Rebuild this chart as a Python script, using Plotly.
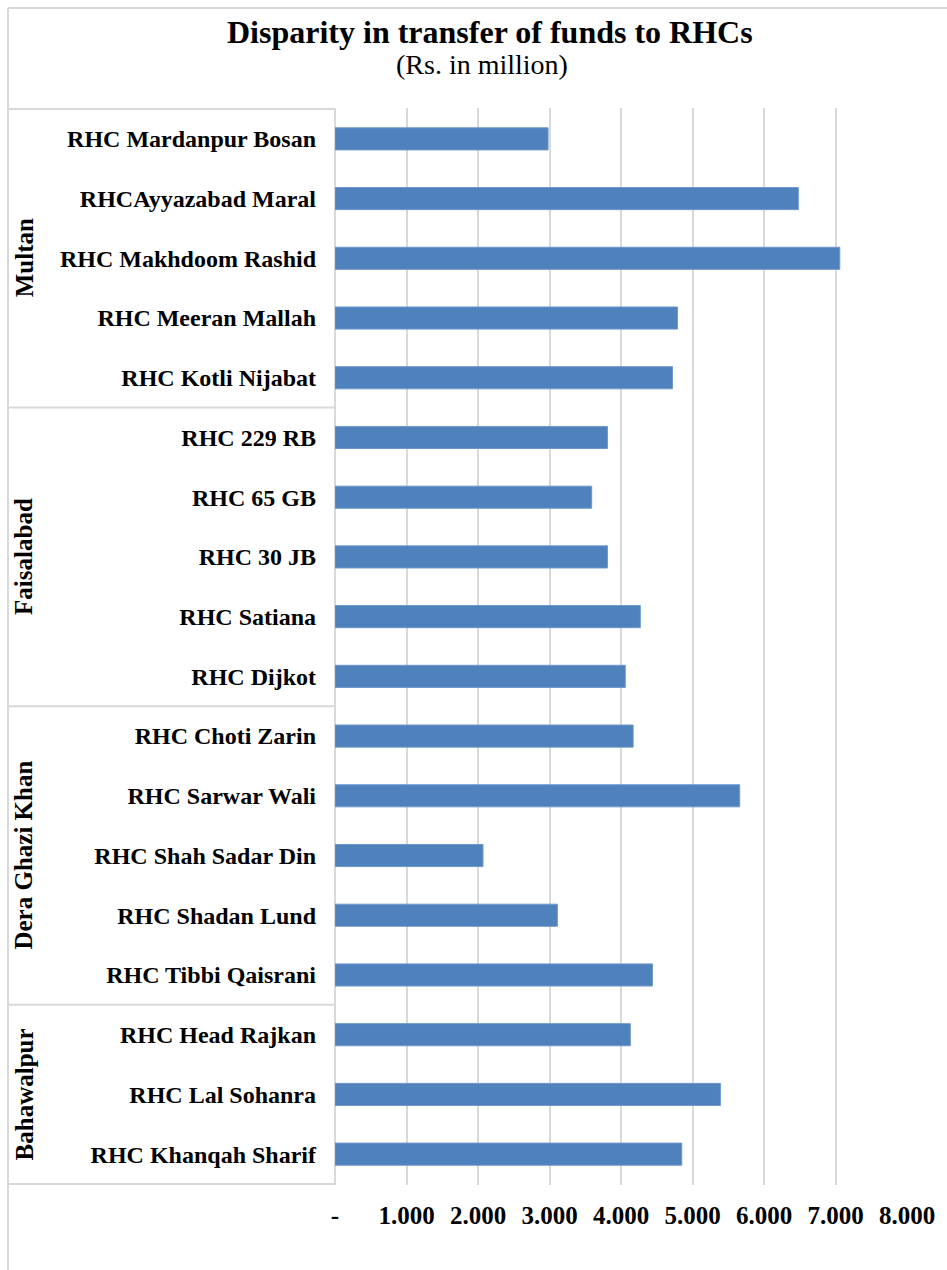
import plotly.graph_objects as go

# ---- data ----
categories = [
    "RHC Mardanpur Bosan", "RHCAyyazabad Maral", "RHC Makhdoom Rashid",
    "RHC Meeran Mallah", "RHC Kotli Nijabat",
    "RHC 229 RB", "RHC 65 GB", "RHC 30 JB", "RHC Satiana", "RHC Dijkot",
    "RHC Choti Zarin", "RHC Sarwar Wali", "RHC Shah Sadar Din",
    "RHC Shadan Lund", "RHC Tibbi Qaisrani",
    "RHC Head Rajkan", "RHC Lal Sohanra", "RHC Khanqah Sharif",
]
values = [2.98, 6.48, 7.06, 4.79, 4.72,
          3.81, 3.59, 3.81, 4.27, 4.06,
          4.17, 5.66, 2.07, 3.11, 4.44,
          4.13, 5.39, 4.85]
groups = ["Multan", "Faisalabad", "Dera Ghazi Khan", "Bahawalpur"]
group_sizes = [5, 5, 5, 3]
tick_vals = [0, 1, 2, 3, 4, 5, 6, 7, 8]
tick_text = ["-", "1.000", "2.000", "3.000", "4.000", "5.000", "6.000", "7.000", "8.000"]

# ---- layout geometry (pixels) ----
W, H = 947, 1270
L, R, T, B = 335, 40, 108, 85
pw, ph = W - L - R, H - T - B
def px_x(p):  # pixel x -> paper x
    return (p - L) / pw
def px_y(p):  # pixel y -> paper y
    return (H - B - p) / ph

FONT = "Liberation Serif"
GRID = "#d9d9d9"

fig = go.Figure(go.Bar(
    x=values, y=categories, orientation="h",
    marker=dict(color="#4f81bd", line=dict(color="#6f97cc", width=1)),
    width=0.37,
))

fig.update_layout(
    width=W, height=H,
    margin=dict(l=L, r=R, t=T, b=B),
    paper_bgcolor="white", plot_bgcolor="white",
    showlegend=False,
    font=dict(family=FONT, color="black"),
    xaxis=dict(
        range=[0, 8], tickvals=tick_vals, ticktext=["<b>%s</b>" % t for t in tick_text],
        showgrid=True, gridcolor=GRID, gridwidth=2,
        zeroline=True, zerolinecolor=GRID, zerolinewidth=2,
        showline=False, ticks="", ticklabelstandoff=13,
        tickfont=dict(family=FONT, size=25, color="black"),
        fixedrange=True,
    ),
    yaxis=dict(
        categoryorder="array", categoryarray=categories,
        tickvals=categories, ticktext=["<b>%s</b>" % c for c in categories],
        autorange="reversed", showgrid=False, zeroline=False, showline=False,
        ticks="", ticklabelstandoff=18,
        tickfont=dict(family=FONT, size=24, color="black"),
    ),
)

# title and subtitle
fig.add_annotation(text="<b>Disparity in transfer of funds to RHCs</b>",
                   xref="paper", yref="paper", x=px_x(490), y=px_y(32),
                   showarrow=False, font=dict(family=FONT, size=32, color="black"),
                   xanchor="center", yanchor="middle")
fig.add_annotation(text="(Rs. in million)",
                   xref="paper", yref="paper", x=px_x(482), y=px_y(64),
                   showarrow=False, font=dict(family=FONT, size=28, color="black"),
                   xanchor="center", yanchor="middle")

# outer chart border (left + top)
fig.add_shape(type="line", xref="paper", yref="paper",
              x0=px_x(8), x1=px_x(8), y0=px_y(8), y1=px_y(H + 5),
              line=dict(color=GRID, width=2))
fig.add_shape(type="line", xref="paper", yref="paper",
              x0=px_x(8), x1=px_x(W + 5), y0=px_y(8), y1=px_y(8),
              line=dict(color=GRID, width=2))

# group separators and labels
start = 0
bounds = [-0.5]
for g, n in zip(groups, group_sizes):
    center = start + (n - 1) / 2
    fig.add_annotation(text=f"<b>{g}</b>", xref="paper", yref="y",
                       x=px_x(24), y=center, textangle=-90, showarrow=False,
                       font=dict(family=FONT, size=25, color="black"),
                       xanchor="center", yanchor="middle")
    start += n
    bounds.append(start - 0.5)
for b in bounds:
    fig.add_shape(type="line", xref="paper", yref="y",
                  x0=px_x(8), x1=0, y0=b, y1=b,
                  line=dict(color=GRID, width=2))

fig.write_html("out.html")
